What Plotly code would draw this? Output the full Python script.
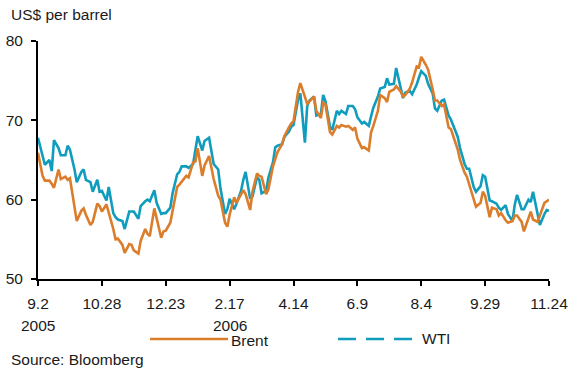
import pandas as pd
import plotly.graph_objects as go

# Trading-day sample (every other business day), 2 Sep 2005 - 24 Nov 2006
dates = pd.bdate_range("2005-09-02", "2006-11-24")[::2]

# US$ per barrel
brent = [
    65.9, 63.0, 62.4, 62.4, 62.0,
    61.5, 63.8, 62.6, 62.9, 62.5,
    62.7, 58.8, 57.3, 58.6, 58.9,
    58.1, 56.8, 57.2, 59.5, 59.2,
    58.5, 59.4, 58.4, 56.3, 55.0,
    55.1, 54.3, 53.3, 54.4, 54.3,
    53.6, 53.2, 54.8, 56.3, 55.7,
    55.4, 58.9, 57.6, 55.2, 56.0,
    56.1, 57.1, 58.5, 61.6, 61.9,
    62.3, 63.0, 62.8, 64.7, 64.8,
    66.5, 63.0, 64.3, 65.5, 64.0,
    62.6, 60.5, 60.0, 57.1, 56.6,
    58.1, 60.3, 59.6, 60.8, 61.2,
    60.7, 58.7, 61.0, 63.3, 63.0,
    62.9, 60.7, 61.3, 64.2, 65.2,
    66.0, 67.0, 68.0, 69.1, 69.6,
    69.9, 73.6, 74.7, 73.1, 72.1,
    72.4, 73.0, 71.2, 70.3, 72.2,
    72.0, 68.5, 68.2, 69.3, 69.1,
    69.4, 69.2, 69.3, 68.8, 69.1,
    67.7, 66.5, 66.6, 66.2, 68.5,
    69.3, 71.2, 73.2, 72.8, 72.3,
    73.6, 73.9, 74.3, 73.6, 73.0,
    73.2, 74.0, 74.8, 76.8, 76.7,
    78.0, 77.0, 76.4, 73.9, 72.5,
    72.5, 71.8, 72.0, 69.1, 68.9,
    68.0, 66.3, 65.0, 63.4, 62.9,
    61.9, 60.0, 59.1, 59.6, 61.0,
    60.5, 57.8, 59.0, 58.8, 58.0,
    58.3, 57.4, 57.1, 57.3, 58.0,
    58.0, 57.2, 56.0, 57.6, 58.5,
    57.5, 57.2, 58.0, 59.6, 59.8,
    60.0,
]

wti = [
    67.8, 65.5, 64.4, 65.0, 63.6,
    67.5, 66.5, 65.6, 65.6, 66.8,
    66.3, 63.8, 62.2, 63.5, 63.8,
    62.5, 62.2, 61.0, 62.5, 61.0,
    61.1, 59.9, 61.6, 58.3, 57.8,
    57.5, 57.3, 56.3, 58.5, 58.5,
    58.5, 57.6, 59.2, 59.8, 60.0,
    59.8, 61.2, 59.6, 58.2, 58.3,
    58.3, 59.0, 60.8, 63.2, 63.5,
    64.2, 64.2, 64.0, 64.5, 66.3,
    68.0, 66.2, 67.4, 67.8, 66.0,
    64.5, 63.8, 61.4, 58.2, 58.8,
    60.1, 58.8, 59.5, 61.1, 62.5,
    63.5, 60.1, 60.4, 62.8, 62.5,
    60.8, 61.1, 62.8, 64.7, 66.6,
    66.8, 67.0, 67.9, 68.6, 69.2,
    69.4, 72.6, 73.4, 67.2, 71.8,
    72.5, 73.0, 70.6, 70.8, 73.2,
    72.4, 69.2, 68.8, 71.2, 70.8,
    71.2, 70.8, 71.8, 71.8, 71.4,
    70.4, 69.6, 69.8, 69.3, 70.5,
    71.6, 73.0, 74.0, 74.2, 75.3,
    74.5, 74.6, 76.6, 73.8, 72.8,
    73.5, 73.7, 73.3, 74.5, 75.4,
    76.2, 75.6, 74.6, 73.4, 71.5,
    71.2, 72.5, 72.6, 70.6, 70.1,
    69.4, 67.9, 66.5, 64.5, 63.9,
    63.9, 61.6, 61.0, 61.7, 63.1,
    62.9, 59.9, 59.8, 59.5, 59.0,
    58.7, 59.3, 58.2, 57.3, 59.4,
    60.6, 58.8, 58.8, 60.0, 59.7,
    61.0, 58.2, 56.8, 58.2, 58.7,
    58.6,
]

tick_dates = ["2005-09-02", "2005-10-28", "2005-12-23", "2006-02-17", "2006-04-14",
              "2006-06-09", "2006-08-04", "2006-09-29", "2006-11-24"]
tick_labels = ["9.2", "10.28", "12.23", "2.17", "4.14", "6.9", "8.4", "9.29", "11.24"]
year_dates = ["2005-09-02", "2006-02-17"]
year_labels = ["2005", "2006"]
y_ticks = [50, 60, 70, 80]

BRENT_COLOR = "#DB7D2B"
WTI_COLOR = "#109DBD"
FONT = "Liberation Sans, Arial, sans-serif"
TEXT = "#1a1a1a"
FS = 15.5

fig = go.Figure()
fig.add_trace(go.Scatter(x=dates, y=wti, mode="lines", name="WTI",
                         line=dict(color=WTI_COLOR, width=2.6)))
fig.add_trace(go.Scatter(x=dates, y=brent, mode="lines", name="Brent",
                         line=dict(color=BRENT_COLOR, width=2.6)))

fig.update_layout(
    width=571, height=372,
    margin=dict(l=38, r=22, t=41, b=93, autoexpand=False),
    paper_bgcolor="white", plot_bgcolor="white",
    showlegend=False,
    font=dict(family=FONT, size=FS, color=TEXT),
    xaxis=dict(
        range=[tick_dates[0], tick_dates[-1]],
        tickvals=tick_dates, ticktext=tick_labels,
        showgrid=False, zeroline=False, automargin=False,
        showline=True, linecolor="black", linewidth=2,
        ticks="outside", ticklen=5, tickwidth=2, tickcolor="black",
        tickfont=dict(size=FS, color=TEXT), ticklabelstandoff=4,
    ),
    yaxis=dict(
        range=[50, 80], tickvals=y_ticks,
        showgrid=False, zeroline=False, automargin=False,
        showline=True, linecolor="black", linewidth=2,
        ticks="outside", ticklen=5, tickwidth=2, tickcolor="black",
        tickfont=dict(size=FS, color=TEXT), ticklabelstandoff=5,
    ),
)

# Year markers under the first tick of each year
for d, lab in zip(year_dates, year_labels):
    fig.add_annotation(text=lab, x=d, xref="x", yref="paper", y=-0.1933,
                       xanchor="center", yanchor="middle", showarrow=False,
                       font=dict(size=FS, color=TEXT))

# Custom legend below the axis: solid Brent, dashed WTI
fig.add_shape(type="line", xref="paper", yref="paper",
              x0=0.2192, x1=0.3718, y0=-0.2521, y1=-0.2521,
              line=dict(color=BRENT_COLOR, width=2.6))
fig.add_shape(type="line", xref="paper", yref="paper",
              x0=0.5871, x1=0.7339, y0=-0.2521, y1=-0.2521,
              line=dict(color=WTI_COLOR, width=2.6, dash="18px,10px"))
fig.add_annotation(text="Brent", xref="paper", yref="paper", x=0.3738, y=-0.2605,
                   xanchor="left", yanchor="middle", showarrow=False,
                   font=dict(size=FS, color=TEXT))
fig.add_annotation(text="WTI", xref="paper", yref="paper", x=0.7476, y=-0.2521,
                   xanchor="left", yanchor="middle", showarrow=False,
                   font=dict(size=FS, color=TEXT))

fig.add_annotation(text="US$ per barrel", xref="paper", yref="paper", x=-0.0568, y=1.111,
                   xanchor="left", yanchor="middle", showarrow=False,
                   font=dict(size=FS, color=TEXT))
fig.add_annotation(text="Source: Bloomberg", xref="paper", yref="paper", x=-0.0568, y=-0.3403,
                   xanchor="left", yanchor="middle", showarrow=False,
                   font=dict(size=FS, color=TEXT))

fig.write_html("out.html")
